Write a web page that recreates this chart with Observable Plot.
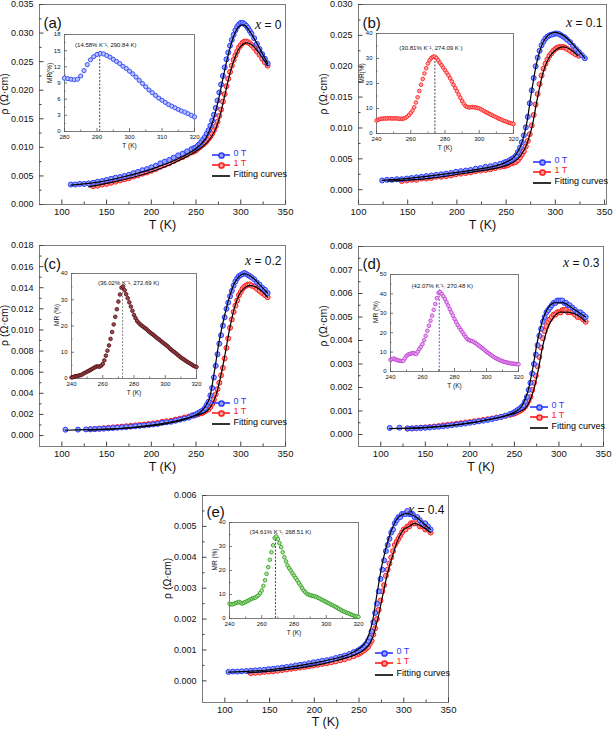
<!DOCTYPE html>
<html><head><meta charset="utf-8">
<script src="https://cdn.jsdelivr.net/npm/d3@7"></script>
<script src="https://cdn.jsdelivr.net/npm/@observablehq/plot@0.6"></script>
<style>
body{margin:0;background:#fff;}
#fig{position:relative;width:614px;height:732px;overflow:hidden;background:#fff;}
#fig svg{position:absolute;overflow:visible;}
</style></head><body><div id="fig"></div>
<script>
// ---------------- DATA ----------------
// Panel (a) x = 0
const T_a = [110,115,120,125,130,135,140,145,150,155,160,165,170,175,180,185,190,195,200,205,210,215,220,225,230,235,240,245,
  248,250,252,254,256,258,260,262,264,266,268,270,272,274,276,278,280,282,284,286,288,290,292,294,296,298,300,302,304,306,308,310,312,
  315,318,321,324,327,330];
const rho0_a = [.0035,.0035,.0036,.0036,.0037,.0038,.0040,.0041,.0043,.0045,.0047,.0048,.0050,.0052,.0055,.0057,.0060,.0062,.0065,.0068,.0072,.0075,.0078,.0082,.0086,.0089,.0093,.0097,
  .0099,.0100,.0103,.0106,.0110,.0114,.0118,.0124,.0130,.0138,.0147,.0157,.0169,.0182,.0196,.0210,.0225,.0240,.0254,.0266,.0278,.0288,.0297,.0305,.0311,.0315,.0318,.0318,.0316,.0313,.0309,.0304,.0299,
  .0291,.0281,.0272,.0263,.0255,.0247];
const rho1_a = [null,null,null,null,null,.0032,.0033,.0035,.0036,.0038,.0040,.0042,.0044,.0046,.0049,.0051,.0054,.0056,.0059,.0062,.0066,.0069,.0072,.0076,.0080,.0083,.0087,.0091,
  .0093,.0095,.0098,.0100,.0103,.0105,.0108,.0111,.0115,.0119,.0124,.0130,.0137,.0145,.0155,.0166,.0180,.0193,.0207,.0220,.0232,.0243,.0253,.0261,.0268,.0275,.0279,.0283,.0285,.0285,.0284,.0282,.0279,
  .0274,.0268,.0262,.0255,.0249,.0243];
const fitT0_a = [110,140,170,200,230,250,260,268,274,280,286,292,298,304,310,318,330];
const fit0_a = [.0034,.0039,.0049,.0062,.0080,.0098,.0114,.0142,.0176,.0220,.0262,.0294,.0312,.0314,.0303,.0282,.0247];
const fitT1_a = [130,160,190,220,250,262,270,276,282,288,294,300,306,312,320,330];
const fit1_a = [.0031,.0040,.0052,.0069,.0093,.0108,.0126,.0151,.0190,.0230,.0259,.0277,.0283,.0280,.0266,.0243];

// Panel (b) x = 0.1
const T_b = [124,129,134,139,144,149,154,159,164,169,174,179,184,189,194,199,204,209,214,219,224,229,234,239,244,
  248,250,252,254,256,258,260,262,264,266,268,270,272,274,276,278,280,282,284,286,288,290,292,294,296,298,300,302,304,306,308,310,312,
  315,318,321,324,327,330];
const rho0_b = [.0015,.0016,.0016,.0017,.0017,.0018,.0019,.0020,.0021,.0022,.0023,.0024,.0025,.0026,.0027,.0029,.0030,.0031,.0032,.0034,.0035,.0037,.0038,.0040,.0042,
  .0044,.0045,.0046,.0048,.0050,.0052,.0055,.0061,.0068,.0077,.0088,.0101,.0118,.0140,.0161,.0181,.0200,.0214,.0225,.0234,.0240,.0245,.0248,.0250,.0251,.0252,.0253,.0253,.0252,.0250,.0248,.0246,.0243,
  .0239,.0233,.0228,.0223,.0218,.0213];
const rho1_b = [null,null,null,null,.0014,.0015,.0016,.0016,.0018,.0018,.0019,.0021,.0021,.0022,.0023,.0025,.0026,.0027,.0028,.0030,.0031,.0032,.0033,.0035,.0037,
  .0038,.0039,.0040,.0042,.0043,.0044,.0045,.0048,.0052,.0057,.0062,.0070,.0079,.0090,.0104,.0121,.0138,.0155,.0171,.0185,.0196,.0204,.0211,.0217,.0221,.0225,.0228,.0230,.0231,.0231,.0231,.0230,.0228,
  .0225,.0222,.0219,.0217,null,null];
const fitT0_b = [124,160,200,240,256,264,270,276,282,288,294,300,306,314,322,330];
const fit0_b = [.0015,.0020,.0028,.0039,.0050,.0068,.0100,.0160,.0212,.0240,.0252,.0255,.0252,.0242,.0228,.0213];
const fitT1_b = [130,170,210,250,262,270,276,282,288,294,300,306,312,318,323];
const fit1_b = [.0014,.0018,.0027,.0039,.0050,.0070,.0100,.0150,.0192,.0215,.0226,.0231,.0230,.0224,.0217];

// Panel (c) x = 0.2
const T_c = [104,118,127,132,137,142,147,152,157,162,167,172,177,182,187,192,197,202,207,212,217,222,227,232,237,242,
  246,248,250,252,254,256,258,260,262,264,266,268,270,272,274,276,278,280,282,284,286,288,290,292,294,296,298,300,302,304,306,308,310,312,
  315,318,321,324,327,330];
const rho0_c = [.00055,.00056,.00058,.00059,.00061,.00063,.00065,.00068,.00071,.00074,.00077,.0008,.00084,.00088,.00092,.00096,.0010,.00105,.0011,.0012,.00125,.0013,.0014,.0015,.0016,.0017,
  .0019,.0019,.0020,.0021,.0022,.0023,.0024,.0026,.0029,.0032,.0038,.0045,.0055,.0066,.0077,.0087,.0095,.0104,.0112,.0120,.0126,.0132,.0137,.0142,.0146,.0149,.0151,.0152,.0153,.0154,.0153,.0152,.0151,.0150,
  .0148,.0145,.0143,.0140,.0138,.0135];
const rho1_c = [null,null,null,.0006,.00063,.00066,.00069,.00073,.00077,.0008,.00084,.00088,.00092,.00096,.0010,.00104,.0011,.00115,.0012,.0013,.00135,.0014,.0015,.0016,.0017,.0018,
  .0019,.0019,.0020,.0020,.0021,.0021,.0022,.0023,.0024,.0025,.0027,.0030,.0034,.0039,.0044,.0050,.0057,.0064,.0073,.0083,.0092,.0102,.0110,.0117,.0123,.0128,.0133,.0136,.0139,.0141,.0142,.0143,.0143,.0142,
  .0141,.0139,.0137,.0135,.0133,.0131];
const fitT0_c = [104,150,200,240,256,264,270,276,282,288,294,300,306,314,322,330];
const fit0_c = [.0005,.0006,.0009,.0016,.0023,.0033,.0058,.0090,.0114,.0133,.0146,.0152,.0153,.0149,.0142,.0135];
const fitT1_c = [130,170,210,250,262,270,276,282,288,294,300,306,312,320,330];
const fit1_c = [.0005,.0007,.0011,.0019,.0023,.0033,.0050,.0075,.0103,.0124,.0136,.0141,.0142,.0139,.0131];

// Panel (d) x = 0.3
const T_d = [110,121,130,135,140,145,150,155,160,165,170,175,180,185,190,195,200,205,210,215,220,225,230,235,240,245,
  248,250,252,254,256,258,260,262,264,266,268,270,272,274,276,278,280,282,284,286,288,290,292,294,296,298,300,302,304,306,308,310,312,
  315,318,321,324,327,330];
const rho0_d = [.00028,.00029,.00026,.00026,.00027,.00028,.00029,.0003,.00032,.00033,.00035,.00037,.0004,.00042,.00045,.00047,.0005,.00053,.00056,.00059,.00062,.00066,.0007,.00075,.0008,.00087,
  .00091,.00095,.001,.00105,.0011,.00117,.00125,.0014,.0016,.0019,.0022,.0026,.0030,.0034,.0038,.0042,.0045,.0048,.0050,.0052,.0053,.0054,.0055,.0056,.0056,.0057,.0057,.0057,.0057,.0056,.0056,.0055,.0055,
  .0054,.0053,.0052,.0052,.0051,.0050];
const rho1_d = [null,null,.00025,.00026,.00027,.00029,.0003,.00032,.00034,.00036,.00039,.00041,.00043,.00046,.00048,.00051,.00053,.00056,.00059,.00062,.00065,.00068,.00072,.00075,.0008,.00084,
  .00087,.0009,.00093,.00097,.001,.00105,.0011,.0012,.0013,.00145,.0016,.0019,.0022,.0025,.0029,.0033,.0037,.0041,.0044,.0046,.0048,.0049,.0050,.0051,.0051,.0052,.0052,.0052,.0053,.0053,.0053,.0052,.0052,
  .0052,.0051,.0050,.0050,.0049,.0048];
const fitT0_d = [110,150,200,240,256,264,270,276,282,288,294,300,306,314,322,330];
const fit0_d = [.00025,.0003,.0005,.0008,.0011,.0017,.0027,.0040,.0049,.0054,.0056,.0056,.0056,.0054,.0052,.0050];
const fitT1_d = [128,170,210,250,262,270,276,282,288,294,300,306,312,320,330];
const fit1_d = [.00025,.00035,.00055,.0009,.0011,.0017,.0026,.0038,.0046,.0050,.0052,.0052,.0052,.0051,.0048];

// Panel (e) x = 0.4
const T_e = [104,109,114,119,124,129,134,139,144,149,154,159,164,169,174,179,184,189,194,199,204,209,214,219,224,229,234,239,244,
  248,250,252,254,256,258,260,262,264,266,268,270,272,274,276,278,280,282,284,286,288,290,292,294,296,298,300,302,304,306,308,310,312,
  315,318,321,324,327,330];
const rho0_e = [.00029,.0003,.0003,.00031,.00032,.00033,.00034,.00035,.00036,.00038,.00039,.00041,.00043,.00045,.00047,.0005,.00052,.00054,.00057,.0006,.00062,.00065,.00067,.0007,.00074,.00078,.00082,.00087,.00093,
  .00097,.001,.00104,.00108,.00114,.0012,.0013,.0014,.0016,.0019,.0022,.0025,.0029,.0033,.0036,.0039,.0042,.0044,.0046,.0048,.0049,.0051,.0052,.0053,.0053,.0054,.0054,.0054,.0055,.0054,.0054,.0054,.0053,
  .0053,.0052,.0051,.0051,.0050,.0049];
const rho1_e = [null,null,null,null,null,.00025,.00026,.00027,.00029,.0003,.00031,.00033,.00035,.00037,.00039,.00041,.00043,.00045,.00047,.0005,.00052,.00055,.00057,.0006,.00063,.00067,.0007,.00075,.0008,
  .00085,.00088,.00092,.00096,.001,.00105,.0011,.0012,.0013,.0015,.0017,.0020,.0023,.0026,.0029,.0031,.0034,.0036,.0038,.0040,.0042,.0044,.0045,.0046,.0047,.0048,.0049,.0049,.0050,.0050,.0051,.0051,.0051,
  .0051,.0050,.0050,.0049,.0049,.0048];
const fitT0_e = [104,150,200,240,256,264,270,276,282,288,294,300,306,314,322,330];
const fit0_e = [.00028,.00036,.00058,.00088,.0012,.0018,.0028,.0038,.0045,.0050,.0053,.0054,.0054,.0053,.0051,.0049];
const fitT1_e = [125,170,210,250,262,270,276,282,288,294,300,306,312,320,330];
const fit1_e = [.00026,.00037,.00055,.0009,.0012,.0019,.0027,.0035,.0041,.0046,.0049,.0050,.0051,.0050,.0048];

// Insets: MR (%) vs T (K)
const mrT_a = [280,281,282,283,284,285,286,287,288,289,290,291,292,293,294,295,296,297,298,299,300,301,302,303,304,305,306,307,308,309,310,311,312,313,314,315,316,317,318,319,320];
const mr_a = [9.9,9.8,9.7,9.6,9.7,10.3,11.3,12.4,13.3,13.9,14.3,14.5,14.4,14.1,13.8,13.4,13.0,12.6,12.1,11.7,11.2,10.7,10.1,9.5,8.9,8.3,7.7,7.2,6.7,6.2,5.8,5.4,5.0,4.7,4.4,4.1,3.8,3.6,3.3,3.0,2.7];
const mrT_1 = [240,241,242,243,244,245,246,247,248,249,250,251,252,253,254,255,256,257,258,259,260,261,262,263,264,265,266,267,268,269,
  270,271,272,273,274,275,276,277,278,279,280,281,282,283,284,285,286,287,288,289,290,291,292,293,294,295,296,297,298,299,
  300,301,302,303,304,305,306,307,308,309,310,311,312,313,314,315,316,317,318,319,320];
const mr_b = [5.2,5.5,5.8,5.9,6.0,6.0,6.0,6.1,6.1,6.0, 6.0,6.1,6.0,5.9,5.9,5.9,6.0,6.3,6.8,7.4,
  8.2,9.2,10.5,12.4,14.5,17.0,19.5,21.8,24.0,26.1, 28.0,29.3,30.2,30.7,30.8,30.2,29.3,28.3,27.3,26.3,
  25.3,24.3,23.3,22.1,20.8,19.5,18.2,16.9,15.6,14.3, 13.0,11.9,11.0,10.6,10.4,10.5,10.6,10.5,10.4,10.2,
  10.0,9.7,9.3,8.9,8.5,8.2,7.8,7.5,7.1,6.8, 6.5,6.1,5.8,5.5,5.2,4.9,4.7,4.4,4.2,4.0, 3.8];
const mr_c = [0.4,0.5,0.8,0.9,1.0,1.2,1.3,1.6,2.0,2.3, 2.6,2.9,3.2,3.6,3.9,4.3,4.6,4.6,4.5,4.9,
  5.5,6.9,8.7,10.6,12.6,15.1,17.7,20.6,23.5,26.4, 29.3,32.0,34.6,35.0,33.6,32.1,30.6,29.0,27.4,25.8,
  24.2,23.0,21.9,21.2,20.6,20.1,19.7,19.2,18.8,18.2, 17.7,17.2,16.8,16.3,15.8,15.3,14.9,14.4,13.9,13.4,
  13.0,12.5,12.0,11.4,10.9,10.4,10.0,9.5,9.0,8.5, 8.0,7.6,7.2,6.8,6.4,6.0,5.7,5.3,4.9,4.6, 4.4];
const mr_d = [6.0,6.4,6.7,6.3,5.9,5.7,5.5,5.4,5.5,6.8, 8.1,8.7,9.0,9.3,9.5,9.3,9.0,10.2,11.6,12.8,
  14.1,16.1,18.4,21.0,23.6,26.2,28.8,31.8,34.8,37.8, 40.5,40.9,40.0,38.8,37.4,35.7,34.0,32.2,30.5,28.8,
  27.1,25.5,24.0,22.7,21.4,20.2,19.0,17.8,16.7,16.2, 15.9,15.6,15.3,14.7,14.1,13.5,12.9,12.2,11.6,10.9,
  10.2,9.6,9.0,8.4,7.8,7.3,6.8,6.4,6.0,5.6, 5.3,5.0,4.8,4.6,4.4,4.2,4.1,4.0,3.9,3.8, 3.7];
const mr_e = [6.2,6.0,5.9,6.2,6.5,6.7,6.9,6.5,6.2,6.6, 6.9,7.2,7.6,8.0,8.3,8.5,8.7,9.2,9.7,10.6,
  11.7,13.6,15.9,18.6,21.4,24.5,27.6,30.5,33.5,34.2, 33.1,31.4,29.7,27.6,25.5,23.8,22.1,21.0,20.0,18.9,
  17.9,16.9,15.9,14.8,13.8,12.7,11.7,11.0,10.3,10.0, 9.7,9.5,9.4,9.2,9.0,8.6,8.3,7.9,7.6,7.2,
  6.9,6.5,6.2,5.8,5.5,5.1,4.8,4.4,4.0,3.6, 3.2,2.9,2.6,2.3,2.1,1.8,1.5,1.2,1.0,0.8, 0.7];
const peak_a = [290.84, 14.58], peak_b = [274.09, 30.81], peak_c = [272.69, 36.02], peak_d = [270.48, 42.07], peak_e = [268.51, 34.61];
const note_a = "(14.58% K⁻¹, 290.84 K)", note_b = "(30.81% K⁻¹, 274.09 K )", note_c = "(36.02% K⁻¹, 272.69 K)", note_d = "(42.07% K⁻¹, 270.48 K)", note_e = "(34.61% K⁻¹, 268.51 K)";

// Tick labels
const xTicksMain = [100,150,200,250,300,350];
const xMinorMain = [125,175,225,275,325];
const yTicks_a = [0,.005,.010,.015,.020,.025,.030,.035];
const yMinor_a = [.0025,.0075,.0125,.0175,.0225,.0275,.0325];
const yTicks_b = [0,.005,.010,.015,.020,.025,.030];
const yMinor_b = [.0025,.0075,.0125,.0175,.0225,.0275];
const yTicks_c = [0,.002,.004,.006,.008,.010,.012,.014,.016,.018];
const yMinor_c = [.001,.003,.005,.007,.009,.011,.013,.015,.017];
const yTicks_d = [0,.001,.002,.003,.004,.005,.006,.007,.008];
const yMinor_d = [.0005,.0015,.0025,.0035,.0045,.0055,.0065,.0075];
const yTicks_e = [0,.001,.002,.003,.004,.005,.006];
const yMinor_e = [.0005,.0015,.0025,.0035,.0045,.0055];
const insetX_a = [280,290,300,310,320], insetXMinor_a = [285,295,305,315];
const insetY_a = [0,3,6,9,12,15,18], insetYMinor_a = [1.5,4.5,7.5,10.5,13.5,16.5];
const insetX = [240,260,280,300,320], insetXMinor = [250,270,290,310];
const insetY40 = [0,10,20,30,40], insetYMinor40 = [5,15,25,35];
const insetY50 = [0,10,20,30,40,50], insetYMinor50 = [5,15,25,35,45];

// ---------------- RENDER ----------------
const FONT = "'Liberation Sans', Arial, Helvetica, sans-serif";
const BLUE = "#2a3cff", BLUE_FILL = "#93a0ff", RED = "#ff1c1c", RED_FILL = "#ff9a9a";
const fig = document.getElementById("fig");

function place(chart, left, top) {
  chart.style.position = "absolute";
  chart.style.left = left + "px";
  chart.style.top = top + "px";
  chart.style.maxWidth = "none";
  fig.appendChild(chart);
}

function italicX(chart) {
  d3.select(chart).selectAll("text").each(function () {
    const s = this.textContent;
    if (s.startsWith("x = ")) {
      this.textContent = "";
      d3.select(this).append("tspan").attr("font-family", "'Liberation Serif', 'DejaVu Serif', serif")
        .attr("font-style", "italic").attr("font-size", "14px").text("x");
      d3.select(this).append("tspan").text(s.slice(1));
    }
  });
}

function mainPanel(p, L) {
  const [fx0, fy0, fx1, fy1] = L.frame;
  const fw = fx1 - fx0, fh = fy1 - fy0;
  const ml = 39, mr = 8, mt = 4, mb = 36;
  const pts = (T, v) => T.map((t, i) => ({T: t, v: v[i]})).filter(d => d.v != null);
  const rows = [
    {label: "0 T", color: BLUE, fill: BLUE_FILL, dot: true},
    {label: "1 T", color: RED, fill: RED_FILL, dot: true},
    {label: "Fitting curves", color: "#000", dot: false}
  ];
  const marks = [
    Plot.frame({stroke: "#7c7c7c"}),
    Plot.tickX(p.xMinor, {x: d => d, insetTop: fh - 2.5, stroke: "#444"}),
    Plot.tickX(p.xTicks, {x: d => d, insetTop: fh - 4.5, stroke: "#444"}),
    Plot.tickY(p.yMinor, {y: d => d, insetRight: fw - 2.5, stroke: "#444"}),
    Plot.tickY(p.yTicks, {y: d => d, insetRight: fw - 4.5, stroke: "#444"}),
    Plot.axisX(p.xTicks, {anchor: "bottom", tickSize: 0, tickPadding: 4, label: null, fontSize: 9.5}),
    Plot.axisY(p.yTicks, {anchor: "left", tickSize: 0, tickPadding: 6, label: null, fontSize: 9, tickFormat: d3.format(".3f")}),
    Plot.dot(pts(p.T, p.rho1), {x: "T", y: "v", r: 2.5, stroke: RED, fill: RED_FILL, strokeWidth: 1}),
    Plot.dot(pts(p.T, p.rho0), {x: "T", y: "v", r: 2.5, stroke: BLUE, fill: BLUE_FILL, strokeWidth: 1}),
    Plot.line(pts(p.fitT0, p.fit0), {x: "T", y: "v", stroke: "#000", strokeWidth: 1.2, curve: "catmull-rom"}),
    Plot.line(pts(p.fitT1, p.fit1), {x: "T", y: "v", stroke: "#000", strokeWidth: 1.2, curve: "catmull-rom"}),
    Plot.text([p.tag], {frameAnchor: "top-left", dx: 4, dy: L.tagDy, fontSize: 15, textAnchor: "start"}),
    Plot.text([p.comp], {frameAnchor: "top-right", dx: -4, dy: L.compDy, fontSize: 12, textAnchor: "end"}),
    Plot.text(["T (K)"], {frameAnchor: "bottom", dy: L.xTitleDy, fontSize: 12.5}),
    Plot.text(["ρ (Ω·cm)"], {frameAnchor: "left", dx: -35, dy: L.yTitleDy, rotate: -90, fontSize: 10.5})
  ];
  rows.forEach((row, i) => {
    const d = L.legendDy[i];
    marks.push(Plot.rect([0], {insetLeft: fw - 73, insetRight: 55, insetTop: fh + d - 0.8, insetBottom: -d - 0.8, fill: row.color}));
    if (row.dot) marks.push(Plot.dot([0], {frameAnchor: "bottom-right", dx: -64, dy: d, r: 2.6, stroke: row.color, fill: row.fill}));
    marks.push(Plot.text([row.label], {frameAnchor: "bottom-right", dx: -52, dy: d, textAnchor: "start", fill: row.color, fontSize: 9}));
  });
  const chart = Plot.plot({
    width: fw + ml + mr, height: fh + mt + mb,
    marginLeft: ml, marginRight: mr, marginTop: mt, marginBottom: mb,
    x: {domain: L.xDomain}, y: {domain: L.yDomain},
    style: {fontFamily: FONT, fontSize: "9.5px", color: "#111", background: "none", overflow: "visible"},
    marks
  });
  italicX(chart);
  place(chart, fx0 - ml, fy0 - mt);
}

function insetPanel(q, L) {
  const [fx0, fy0, fx1, fy1] = L.frame;
  const fw = fx1 - fx0, fh = fy1 - fy0;
  const ml = 28, mr = 8, mt = 4, mb = 24;
  const data = q.T.map((t, i) => ({T: t, v: q.mr[i]}));
  const chart = Plot.plot({
    width: fw + ml + mr, height: fh + mt + mb,
    marginLeft: ml, marginRight: mr, marginTop: mt, marginBottom: mb,
    x: {domain: L.xDomain}, y: {domain: L.yDomain},
    style: {fontFamily: FONT, fontSize: "6px", color: "#111", background: "none", overflow: "visible"},
    marks: [
      Plot.frame({fill: "white", stroke: "#7c7c7c"}),
      Plot.tickX(q.xMinor, {x: d => d, insetTop: fh - 1.5, stroke: "#555", strokeWidth: 0.8}),
      Plot.tickX(q.xTicks, {x: d => d, insetTop: fh - 3, stroke: "#555", strokeWidth: 0.8}),
      Plot.tickY(q.yMinor, {y: d => d, insetRight: fw - 1.5, stroke: "#555", strokeWidth: 0.8}),
      Plot.tickY(q.yTicks, {y: d => d, insetRight: fw - 3, stroke: "#555", strokeWidth: 0.8}),
      Plot.axisX(q.xTicks, {anchor: "bottom", tickSize: 0, tickPadding: 3, label: null, fontSize: 6}),
      Plot.axisY(q.yTicks, {anchor: "left", tickSize: 0, tickPadding: 4, label: null, fontSize: 6}),
      Plot.ruleX([q.peak], {x: d => d[0], y1: 0, y2: d => d[1], stroke: q.dash, strokeWidth: 0.9, strokeDasharray: "2,1.5"}),
      Plot.dot(data, {x: "T", y: "v", r: q.r, stroke: q.color, fill: q.fill, strokeWidth: 0.9}),
      Plot.text([q.peak], {x: d => d[0], y: d => d[1], text: () => q.note, dx: L.noteDx, dy: L.noteDy, fontSize: 6}),
      Plot.text(["T (K)"], {frameAnchor: "bottom", dy: 16, fontSize: 6.5}),
      Plot.text([q.yLabel], {frameAnchor: "left", dx: -15, rotate: -90, fontSize: 6.5})
    ]
  });
  place(chart, fx0 - ml, fy0 - mt);
}

const layouts = {
  a: {frame: [39, 4, 285, 204], xDomain: [75, 350], yDomain: [0, 0.035], tagDy: 13, compDy: 16, xTitleDy: 24, yTitleDy: 10, legendDy: [-49, -39, -28]},
  b: {frame: [358, 4, 606, 204], xDomain: [100, 352], yDomain: [-0.0024, 0.030], tagDy: 13, compDy: 14, xTitleDy: 24, yTitleDy: 10, legendDy: [-42, -32, -21]},
  c: {frame: [39, 245, 285, 446], xDomain: [75, 350], yDomain: [-0.00104, 0.018], tagDy: 13, compDy: 11, xTitleDy: 24, yTitleDy: 0, legendDy: [-43, -33, -22]},
  d: {frame: [358, 246, 603, 446], xDomain: [75, 350], yDomain: [-0.00051, 0.008], tagDy: 12, compDy: 12, xTitleDy: 24, yTitleDy: 0, legendDy: [-39, -29, -18]},
  e: {frame: [202, 495, 448, 702], xDomain: [75, 350], yDomain: [-0.0007, 0.006], tagDy: 11, compDy: 10, xTitleDy: 23, yTitleDy: 0, legendDy: [-49, -39, -27]}
};
const insetLayouts = {
  a: {frame: [64, 34, 194, 131], xDomain: [280, 320], yDomain: [0, 18], noteDx: 6, noteDy: -8},
  b: {frame: [376, 33, 513, 133], xDomain: [240, 320], yDomain: [0, 40], noteDx: -4, noteDy: -8},
  c: {frame: [71, 273, 196, 378], xDomain: [240, 320], yDomain: [0, 40], noteDx: 6, noteDy: -1},
  d: {frame: [390, 274, 518, 371], xDomain: [240, 320], yDomain: [0, 50], noteDx: 3, noteDy: -4},
  e: {frame: [229, 522, 358, 618], xDomain: [240, 320], yDomain: [0, 40], noteDx: 5, noteDy: -3}
};

mainPanel({tag: "(a)", comp: "x = 0", T: T_a, rho0: rho0_a, rho1: rho1_a, fitT0: fitT0_a, fit0: fit0_a, fitT1: fitT1_a, fit1: fit1_a, xTicks: xTicksMain, xMinor: xMinorMain, yTicks: yTicks_a, yMinor: yMinor_a}, layouts.a);
mainPanel({tag: "(b)", comp: "x = 0.1", T: T_b, rho0: rho0_b, rho1: rho1_b, fitT0: fitT0_b, fit0: fit0_b, fitT1: fitT1_b, fit1: fit1_b, xTicks: xTicksMain, xMinor: xMinorMain, yTicks: yTicks_b, yMinor: yMinor_b}, layouts.b);
mainPanel({tag: "(c)", comp: "x = 0.2", T: T_c, rho0: rho0_c, rho1: rho1_c, fitT0: fitT0_c, fit0: fit0_c, fitT1: fitT1_c, fit1: fit1_c, xTicks: xTicksMain, xMinor: xMinorMain, yTicks: yTicks_c, yMinor: yMinor_c}, layouts.c);
mainPanel({tag: "(d)", comp: "x = 0.3", T: T_d, rho0: rho0_d, rho1: rho1_d, fitT0: fitT0_d, fit0: fit0_d, fitT1: fitT1_d, fit1: fit1_d, xTicks: xTicksMain, xMinor: xMinorMain, yTicks: yTicks_d, yMinor: yMinor_d}, layouts.d);
mainPanel({tag: "(e)", comp: "x = 0.4", T: T_e, rho0: rho0_e, rho1: rho1_e, fitT0: fitT0_e, fit0: fit0_e, fitT1: fitT1_e, fit1: fit1_e, xTicks: xTicksMain, xMinor: xMinorMain, yTicks: yTicks_e, yMinor: yMinor_e}, layouts.e);

insetPanel({T: mrT_a, mr: mr_a, peak: peak_a, note: note_a, yLabel: "MR(%)", r: 2.1, color: "#2e44f2", fill: "#b9c3ff", dash: "#333", xTicks: insetX_a, xMinor: insetXMinor_a, yTicks: insetY_a, yMinor: insetYMinor_a}, insetLayouts.a);
insetPanel({T: mrT_1, mr: mr_b, peak: peak_b, note: note_b, yLabel: "MR(%)", r: 1.8, color: "#ff1c1c", fill: "#ffb0b0", dash: "#333", xTicks: insetX, xMinor: insetXMinor, yTicks: insetY40, yMinor: insetYMinor40}, insetLayouts.b);
insetPanel({T: mrT_1, mr: mr_c, peak: peak_c, note: note_c, yLabel: "MR (%)", r: 1.8, color: "#5a1418", fill: "#9a4a4e", dash: "#777", xTicks: insetX, xMinor: insetXMinor, yTicks: insetY40, yMinor: insetYMinor40}, insetLayouts.c);
insetPanel({T: mrT_1, mr: mr_d, peak: peak_d, note: note_d, yLabel: "MR (%)", r: 1.8, color: "#c23fd6", fill: "#e7b4f0", dash: "#3a55d0", xTicks: insetX, xMinor: insetXMinor, yTicks: insetY50, yMinor: insetYMinor50}, insetLayouts.d);
insetPanel({T: mrT_1, mr: mr_e, peak: peak_e, note: note_e, yLabel: "MR (%)", r: 1.8, color: "#32a023", fill: "#b6e3a8", dash: "#333", xTicks: insetX, xMinor: insetXMinor, yTicks: insetY40, yMinor: insetYMinor40}, insetLayouts.e);
</script>
</body></html>
